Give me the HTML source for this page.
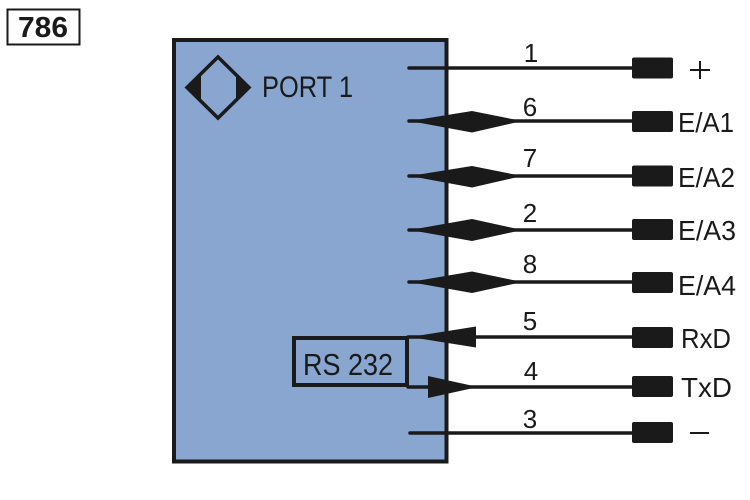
<!DOCTYPE html>
<html><head><meta charset="utf-8"><style>
html,body{margin:0;padding:0;background:#fff;}
svg{display:block;}
text{font-family:"Liberation Sans",sans-serif;fill:#1a1a1a;}
</style></head><body>
<svg width="750" height="500" viewBox="0 0 750 500" xmlns="http://www.w3.org/2000/svg">
<rect x="0" y="0" width="750" height="500" fill="#fff"/>
<!-- label 786 -->
<rect x="7.5" y="9.5" width="72" height="35" fill="#fff" stroke="#1a1a1a" stroke-width="2"/>
<text x="18" y="37" font-size="29" font-weight="bold" textLength="50" lengthAdjust="spacingAndGlyphs">786</text>
<!-- main box -->
<rect x="174" y="40" width="272.5" height="421.5" fill="#88a6cf" stroke="#1a1a1a" stroke-width="4"/>
<!-- diamond icon -->
<polygon points="218,57 249,87.5 218,118 187,87.5" fill="none" stroke="#1a1a1a" stroke-width="3.5" stroke-linejoin="miter"/>
<polygon points="188,87.5 201,74.5 201,100.5" fill="#1a1a1a"/>
<polygon points="248,87.5 236,75.5 236,99.5" fill="#1a1a1a"/>
<text x="262" y="97" font-size="30" textLength="91" lengthAdjust="spacingAndGlyphs">PORT 1</text>
<!-- RS232 box -->
<rect x="294" y="338" width="113" height="47" fill="none" stroke="#1a1a1a" stroke-width="4"/>
<text x="303" y="375" font-size="31" textLength="90" lengthAdjust="spacingAndGlyphs">RS 232</text>
<!-- lines -->
<g stroke="#1a1a1a" stroke-width="3.5" fill="none" stroke-linecap="round">
<line x1="409" y1="68" x2="640" y2="68"/>
<line x1="409" y1="121" x2="640" y2="121"/>
<line x1="409" y1="176" x2="640" y2="176"/>
<line x1="409" y1="230" x2="640" y2="230"/>
<line x1="409" y1="282" x2="640" y2="282"/>
<line x1="408" y1="337" x2="640" y2="337"/>
<line x1="408" y1="387" x2="640" y2="387"/>
<line x1="410" y1="433" x2="640" y2="433"/>
</g>
<!-- diamonds -->
<g fill="#1a1a1a">
<polygon points="410,121 472,111 522,121 472,132.5"/>
<polygon points="410,176 472,166 522,176 472,187.5"/>
<polygon points="410,230 472,219 522,230 472,241"/>
<polygon points="410,282 472,271.5 522,282 472,293"/>
<!-- arrows -->
<polygon points="410,337 476,326.5 476,347.5"/>
<polygon points="428,376 478,387 428,398"/>
</g>
<!-- terminals -->
<g fill="#1a1a1a">
<rect x="632" y="57.5" width="41" height="21" rx="2"/>
<rect x="632" y="111" width="41" height="21" rx="2"/>
<rect x="632" y="165.5" width="41" height="21" rx="2"/>
<rect x="632" y="219" width="41" height="21" rx="2"/>
<rect x="632" y="272" width="41" height="21" rx="2"/>
<rect x="632" y="327" width="41" height="21" rx="2"/>
<rect x="632" y="376" width="41" height="21" rx="2"/>
<rect x="632" y="422" width="41" height="21" rx="2"/>
</g>
<!-- numbers -->
<g font-size="26" text-anchor="middle">
<text x="531" y="62">1</text>
<text x="530" y="116">6</text>
<text x="530" y="167">7</text>
<text x="530" y="222">2</text>
<text x="530" y="273">8</text>
<text x="530" y="330">5</text>
<text x="531" y="380">4</text>
<text x="530" y="428">3</text>
</g>
<!-- right labels -->
<g stroke="#1a1a1a" stroke-width="2">
<line x1="690" y1="70" x2="710" y2="70"/>
<line x1="700" y1="61" x2="700" y2="79"/>
<line x1="690" y1="433" x2="709" y2="433"/>
</g>
<g font-size="28">
<text x="678" y="132" textLength="56" lengthAdjust="spacingAndGlyphs">E/A1</text>
<text x="678" y="187" textLength="57" lengthAdjust="spacingAndGlyphs">E/A2</text>
<text x="678" y="240" textLength="58" lengthAdjust="spacingAndGlyphs">E/A3</text>
<text x="678" y="295" textLength="58" lengthAdjust="spacingAndGlyphs">E/A4</text>
<text x="681" y="348" textLength="50" lengthAdjust="spacingAndGlyphs">RxD</text>
<text x="681" y="397" textLength="51" lengthAdjust="spacingAndGlyphs">TxD</text>
</g>
</svg>
</body></html>
